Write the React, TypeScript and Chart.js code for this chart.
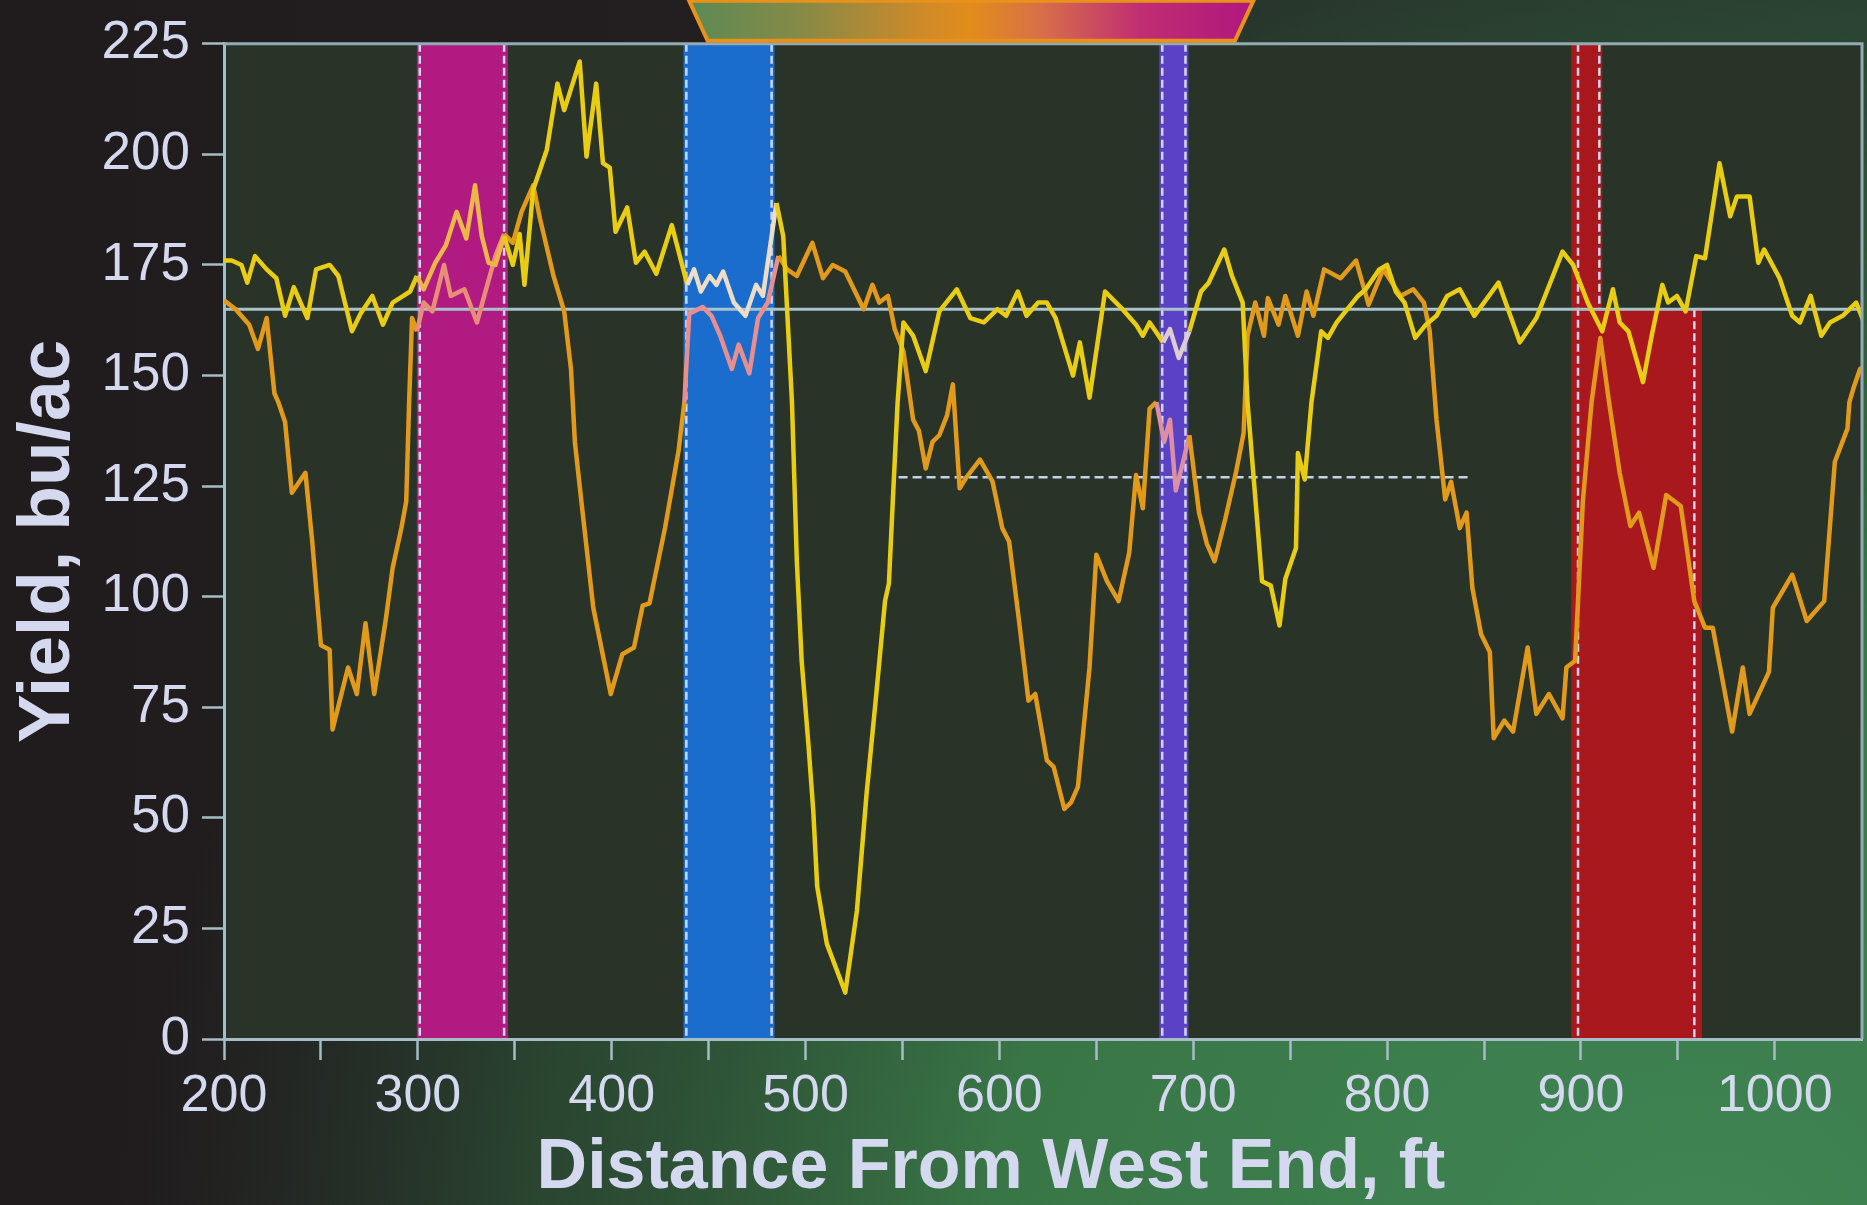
import React, { useEffect, useRef } from 'react';
import { Chart, registerables } from 'chart.js';

Chart.register(...registerables);

const FONT = "'Liberation Sans', Arial, Helvetica, sans-serif";
const TEXT = '#d5d9ef';
const AXIS = '#a6bcc6';

// ---- axis ranges / ticks ----
const X_MIN = 200;
const X_MAX = 1045;
const Y_MIN = 0;
const Y_MAX = 225;
const xTickValues = [200, 250, 300, 350, 400, 450, 500, 550, 600, 650, 700, 750, 800, 850, 900, 950, 1000];
const xLabelValues = [200, 300, 400, 500, 600, 700, 800, 900, 1000];
const Y_TICK_STEP = 25;
const X_TITLE = 'Distance From West End, ft';
const Y_TITLE = 'Yield, bu/ac';

// ---- yellow yield trace ----
const yellowX = [200,204,209,212,216,222,227,231.5,236,243,247.5,254.5,259,266,270.5,276.5,282,287,292.5,296,299.5,303,309,314.5,320,325,329.5,333,336.5,340,344.5,349,352.5,355,359.5,366.5,372,375.5,383.5,387,392,395.5,399,402,408,412.5,417,423,431,439,442.5,446,450.5,454,457.5,463,469,474.5,478,485,488.5,493,495.5,498,501.5,504,506,511,520.5,526.5,531.5,536.5,541,543,545,547.5,550.5,555.5,562,569,578,585,592,599,603.5,609.5,614,620,624.5,629,638,641.5,646.5,654.5,663.5,670.5,674,677.5,684.5,688,692.5,698,704,708,716,720,725.5,728,735.5,740,744.5,747.5,753,754,757.5,761,766,769.5,774,779.5,785,789,796,800,804.5,809,814.5,820,825.5,831,837.5,845,857.5,868.5,877,890.5,896,903.5,911,916.5,920,924.5,932,936.5,942,945,949.5,954,959.5,964,971.5,977,980.5,987,991.5,994.5,1002.5,1009,1013,1018.5,1024,1028.5,1035,1042,1046];
const yellowY = [176,176,175,171,177,174,172,163.5,170,163,174,175,172.5,160,164,168,161.5,166.5,168,169,172.5,169.5,175.5,179.5,187,181,193,181.5,175.5,175,181.5,175,182,170.5,192,201,216,210,221,199.5,216,198,197,182.5,188,175.5,178,173,184,170.5,174,169,172.5,170.5,173.5,166.5,163.5,170.5,168,189,181.5,144,108,85.5,66.5,51.5,34.5,21.5,10.5,29,55.5,78,99,103,121.5,144,162,159,151,164.5,169.5,163,162,165,163.5,169,163.5,166.5,166.5,163,150,157.5,145,169,165,161.5,159,162,157.5,160.5,154,160,169,171,178.5,172.5,166.5,144,103.5,102.5,93.5,104,111,132.5,126.5,144,160,158.5,162,165,168,169.5,174,175,169,166.5,158.5,161.5,163.5,168,169.5,163.5,171,157.5,163,178,175,166.5,160,169.5,162,160,148.5,159,170.5,166.5,168,164.5,177,176.5,198,186,190.5,190.5,175.5,178.5,172,163.5,162,168,159,162,163.5,166.5,162];

// ---- orange yield trace ----
const orangeX = [200,206,213,217.5,222,226,228,231.5,235,242,245.5,250,254.5,256,264,268.5,273,277.5,283.5,287,291.5,294,295.5,297,299.5,303,307.5,313.5,317,324,330.5,335.5,340,344.5,349,353.5,359.5,363,370,375.5,379,381,384,390.5,399.5,405.5,411.5,416,419.5,427.5,434.5,437.5,440,447,451.5,456,462,465.5,471,475.5,480.5,486,490.5,495.5,503.5,509,514,520.5,530,534.5,538,542.5,546,550.5,555.5,558.5,562,565.5,569,573,576,579.5,583,590,596.5,601.5,605,610,615,618.5,624.5,628,633.5,637,640.5,646.5,650,655.5,661.5,667,670.5,674,677.5,681,685,688,691,694.5,698,703,707,711,716.5,722,726,728,732,736.5,738.5,744,747.5,754,758.5,762,767.5,776,784,790.5,798,807,813.5,819,822,825.5,830,833,837.5,841,844,848.5,853,855,860.5,865,872.5,877,883.5,890.5,892.5,897,901,905.5,910,914.5,920,925.5,930,937.5,944,951.5,958.5,964,968,978,983.5,987,997,999,1009,1016.5,1025.5,1031,1037.5,1038.5,1040.5,1044,1046];
const orangeY = [167,165,161.5,156,163,146,144,139.5,123.5,128,112.5,89,88,70,84,78,94,78,95,106.5,115.5,121.5,144,163,160,166.5,164.5,175,168,169.5,162,170,177,182,180,187,193,185.5,172.5,164.5,151.5,135,123,97.5,78,87,88.5,98,98.5,115.5,133,144,164,165.5,163.5,159,151.5,157,150.5,163,166.5,177,174,172.5,180,172,175,173.5,165,170.5,166.5,168,160.5,155.5,140,137.5,129,135,136.5,141,148,124.5,127,131,126,115.5,112.5,95,76.5,78,63,61.5,52,53.5,57,84,109.5,103.5,99,110,127.5,120,142.5,144,135,140,124,130,136.5,119,112,108,117.5,128,137,159,166.5,159,167.5,161.5,168,159,169,163.5,174,172,176,166,174,168,169.5,166.5,160,140,122,126,115.5,119,102,91.5,87.5,68,72,69.5,88.5,73.5,78,72.5,84,85.5,121.5,144,158.5,144,128,116,119,106.5,123,120.5,99,93,93,69.5,84,73.5,83,97.5,105,94.5,99,130.5,138,144,147,151.5,152];

// ---- reference lines ----
const refLineY = 165;
const refLineX = [200, 1045];
const dashLineY = 127;
const dashLineX = [548, 843];

// ---- coloured bands (ft) ----
const bandFrom = [299.5, 437, 682.5, 895, 897];
const bandTo = [346.5, 484, 697.5, 911, 962.5];
const bandLow = [0, 0, 0, 0, 0];
const bandHigh = [225, 225, 225, 225, 165];
const bandColors = ['#b11a80', '#1a6dcc', '#5a41c6', '#a9181d', '#a9181d'];

// ---- dashed band edges ----
const edgeX = [301, 344.5, 438.5, 482.5, 684, 696, 898.5, 909.5, 958.5];
const edgeLow = [0, 0, 0, 0, 0, 0, 0, 165, 0];
const edgeHigh = [225, 225, 225, 225, 225, 225, 225, 225, 165];

// line tints inside the first three bands
const YELLOW = '#e9cd12';
const ORANGE = '#e29a1a';
const yellowTints = ['#ecb64a', '#ecdcc8', '#ddccd4'];
const orangeTints = ['#e88e78', '#e98e8e', '#dc8ea4'];

// title banner (ft at top-left, bottom-left, bottom-right, top-right)
const bannerFt = [440, 449.5, 721.5, 731];

function tintAt(xv: number, tints: string[], base: string): string {
  for (let i = 0; i < tints.length; i++) {
    if (xv >= bandFrom[i] && xv <= bandTo[i]) return tints[i];
  }
  return base;
}

const decorPlugin = {
  id: 'decor',
  beforeDraw(chart: any) {
    const { ctx, chartArea: a, scales, width, height } = chart;
    const xs = scales.x;
    const ys = scales.y;
    ctx.save();
    const g = ctx.createLinearGradient(0, 0, width, 0);
    g.addColorStop(0, '#201b1d');
    g.addColorStop(0.4, '#231e20');
    g.addColorStop(1, '#2a372f');
    ctx.fillStyle = g;
    ctx.fillRect(0, 0, width, height);
    const cx = width * 0.91;
    const cy = height * 1.08;
    const r = ctx.createRadialGradient(cx, cy, 0, cx, cy, width * 0.85);
    r.addColorStop(0, 'rgba(64,134,84,1)');
    r.addColorStop(0.45, 'rgba(58,122,72,0.95)');
    r.addColorStop(0.75, 'rgba(46,92,58,0.6)');
    r.addColorStop(1, 'rgba(40,60,48,0)');
    ctx.fillStyle = r;
    ctx.fillRect(0, 0, width, height);

    ctx.fillStyle = '#293328';
    ctx.fillRect(a.left, a.top, a.right - a.left, a.bottom - a.top);

    for (let i = 0; i < bandFrom.length; i++) {
      const x0 = xs.getPixelForValue(bandFrom[i]);
      const x1 = xs.getPixelForValue(bandTo[i]);
      const y0 = ys.getPixelForValue(bandHigh[i]);
      const y1 = ys.getPixelForValue(bandLow[i]);
      ctx.fillStyle = bandColors[i];
      ctx.fillRect(x0, y0, x1 - x0, y1 - y0);
    }
    ctx.setLineDash([8, 4]);
    ctx.lineWidth = 2.5;
    ctx.strokeStyle = '#d3d6ef';
    for (let i = 0; i < edgeX.length; i++) {
      const x = xs.getPixelForValue(edgeX[i]);
      ctx.beginPath();
      ctx.moveTo(x, ys.getPixelForValue(edgeHigh[i]));
      ctx.lineTo(x, ys.getPixelForValue(edgeLow[i]));
      ctx.stroke();
    }
    ctx.restore();
  },
  afterDraw(chart: any) {
    const { ctx, chartArea: a, scales } = chart;
    const xs = scales.x;
    ctx.save();
    // top and right frame
    ctx.strokeStyle = '#93aab3';
    ctx.lineWidth = 3;
    ctx.beginPath();
    ctx.moveTo(a.left, a.top);
    ctx.lineTo(a.right, a.top);
    ctx.lineTo(a.right, a.bottom);
    ctx.stroke();

    // banner
    const bY = a.top - 3;
    const tY = bY - 40;
    const p = bannerFt.map((v) => xs.getPixelForValue(v));
    const bg = ctx.createLinearGradient(p[0], 0, p[3], 0);
    bg.addColorStop(0, '#5c8a56');
    bg.addColorStop(0.2, '#868a46');
    bg.addColorStop(0.42, '#d08a28');
    bg.addColorStop(0.5, '#e28c1a');
    bg.addColorStop(0.62, '#d87048');
    bg.addColorStop(0.8, '#c02e72');
    bg.addColorStop(1, '#b0167e');
    ctx.beginPath();
    ctx.moveTo(p[0], tY);
    ctx.lineTo(p[1], bY);
    ctx.lineTo(p[2], bY);
    ctx.lineTo(p[3], tY);
    ctx.closePath();
    ctx.fillStyle = bg;
    ctx.fill();
    ctx.strokeStyle = '#e8921c';
    ctx.lineWidth = 4;
    ctx.stroke();

    // x axis title
    ctx.fillStyle = TEXT;
    ctx.font = `bold 70px ${FONT}`;
    ctx.textAlign = 'center';
    ctx.textBaseline = 'middle';
    ctx.fillText(X_TITLE, (a.left + a.right) / 2 - 52, a.bottom + 130);
    ctx.restore();
  },
};

export default function App() {
  const ref = useRef<HTMLCanvasElement>(null);
  useEffect(() => {
    const canvas = ref.current;
    if (!canvas) return;
    const chart = new Chart(canvas, {
      type: 'line',
      data: {
        datasets: [
          {
            label: 'Yellow',
            data: yellowX.map((x, i) => ({ x, y: yellowY[i] })),
            borderColor: YELLOW,
            borderWidth: 4.5,
            pointRadius: 0,
            tension: 0,
            borderJoinStyle: 'round',
            order: 0,
            segment: {
              borderColor: (c: any) => tintAt((c.p0.parsed.x + c.p1.parsed.x) / 2, yellowTints, YELLOW),
            },
          } as any,
          {
            label: 'Orange',
            data: orangeX.map((x, i) => ({ x, y: orangeY[i] })),
            borderColor: ORANGE,
            borderWidth: 4.5,
            pointRadius: 0,
            tension: 0,
            borderJoinStyle: 'round',
            order: 1,
            segment: {
              borderColor: (c: any) => tintAt((c.p0.parsed.x + c.p1.parsed.x) / 2, orangeTints, ORANGE),
            },
          } as any,
          {
            label: 'Reference',
            data: refLineX.map((x) => ({ x, y: refLineY })),
            borderColor: '#a9c3cc',
            borderWidth: 3,
            pointRadius: 0,
            order: 2,
          },
          {
            label: 'Dashed',
            data: dashLineX.map((x) => ({ x, y: dashLineY })),
            borderColor: '#c3d2e4',
            borderWidth: 2.5,
            borderDash: [9, 5],
            pointRadius: 0,
            order: 3,
          },
        ],
      },
      options: {
        animation: false,
        responsive: false,
        devicePixelRatio: 1,
        layout: { padding: { top: 40, right: 5, left: 0, bottom: 0 } },
        plugins: { legend: { display: false }, tooltip: { enabled: false } },
        scales: {
          x: {
            type: 'linear',
            min: X_MIN,
            max: X_MAX,
            afterBuildTicks: (scale: any) => {
              scale.ticks = xTickValues.map((v) => ({ value: v }));
            },
            afterFit: (scale: any) => {
              scale.height = 166;
            },
            ticks: {
              autoSkip: false,
              maxRotation: 0,
              minRotation: 0,
              padding: 5,
              color: TEXT,
              font: { family: FONT, size: 52 },
              callback: (v: any) => (xLabelValues.includes(Number(v)) ? String(v) : ''),
            },
            grid: {
              drawOnChartArea: false,
              drawTicks: true,
              tickLength: 21,
              tickWidth: 2.5,
              tickColor: AXIS,
              color: AXIS,
            },
            border: { display: true, color: AXIS, width: 3 },
            title: { display: false },
          },
          y: {
            type: 'linear',
            min: Y_MIN,
            max: Y_MAX,
            afterFit: (scale: any) => {
              scale.width = 224;
            },
            ticks: {
              stepSize: Y_TICK_STEP,
              autoSkip: false,
              padding: 12,
              color: TEXT,
              font: { family: FONT, size: 53 },
            },
            grid: {
              drawOnChartArea: false,
              drawTicks: true,
              tickLength: 22,
              tickWidth: 2.5,
              tickColor: AXIS,
              color: AXIS,
            },
            border: { display: true, color: AXIS, width: 3 },
            title: {
              display: true,
              text: Y_TITLE,
              color: TEXT,
              font: { family: FONT, size: 73, weight: 'bold' },
              padding: { top: 5, bottom: 0 },
            },
          },
        },
      },
      plugins: [decorPlugin],
    } as any);
    return () => chart.destroy();
  }, []);
  return (
    <div style={{ position: 'fixed', left: 0, top: 0, width: 1867, height: 1205 }}>
      <canvas ref={ref} width={1867} height={1205} style={{ display: 'block' }} />
    </div>
  );
}
